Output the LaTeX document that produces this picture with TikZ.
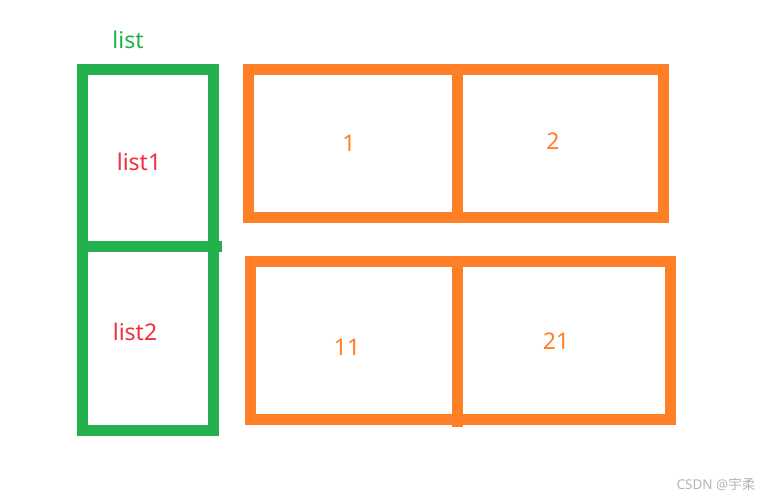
\documentclass[tikz,border=0pt]{standalone}
\usepackage{fontspec}
\setmainfont{Noto Sans}
\newfontfamily\cjkfont{Noto Sans CJK SC}
\usepackage{xcolor}
\definecolor{listgreen}{HTML}{22B14C}
\definecolor{cellorange}{HTML}{FF7F27}
\definecolor{namered}{HTML}{F0303C}
\definecolor{markgray}{HTML}{B4B4B4}

\begin{document}
\begin{tikzpicture}[
        x=1pt, y=-1pt,
        listbox/.style={rectangle, draw=listgreen, line width=11pt, minimum width=131pt, inner sep=0pt, outer sep=0pt},
        cell/.style={rectangle, draw=cellorange, line width=11pt, inner sep=0pt, outer sep=0pt},
        itemname/.style={text=namered, font=\fontsize{23}{23}\selectfont},
        itemnum/.style={text=cellorange, font=\fontsize{23}{23}\selectfont}
    ]
    \useasboundingbox (0,0) rectangle (764,498);

    % outer list
    \node (list) [text=listgreen, font=\fontsize{23}{23}\selectfont] at (128,40) {list};
    \node (box1) [listbox, minimum height=177.5pt, anchor=north west] at (82.5,69) {};
    \node (box2) [listbox, minimum height=184pt, anchor=north west] at (82.5,246.5) {};
    \draw[listgreen, line width=11pt] (box1.south west) -- ++(139.5,0);
    \node (name1) [itemname] at (139,162) {list1};
    \node (name2) [itemname] at (135,332) {list2};

    % list1 elements
    \node (c1) [cell, minimum width=209pt, minimum height=148.5pt, anchor=north west] at (248.5,69) {};
    \node (c2) [cell, minimum width=206pt, minimum height=148.5pt, anchor=north west] at (c1.north east) {};
    \node (v1) [itemnum] at (349,143) {1};
    \node (v2) [itemnum] at (553,141) {2};

    % list2 elements
    \node (c11) [cell, minimum width=207pt, minimum height=158pt, anchor=north west] at (250.5,261.5) {};
    \node (c21) [cell, minimum width=212.5pt, minimum height=158pt, anchor=north west] at (c11.north east) {};
    \draw[cellorange, line width=11pt] (c11.north east) -- ++(0,165);
    \node (v11) [itemnum] at (347,347) {11};
    \node (v21) [itemnum] at (556,341) {21};

    \node (mark) [text=markgray, font=\fontsize{13.5}{13.5}\selectfont] at (716,484) {CSDN @{\cjkfont 宇柔}};
\end{tikzpicture}
\end{document}
